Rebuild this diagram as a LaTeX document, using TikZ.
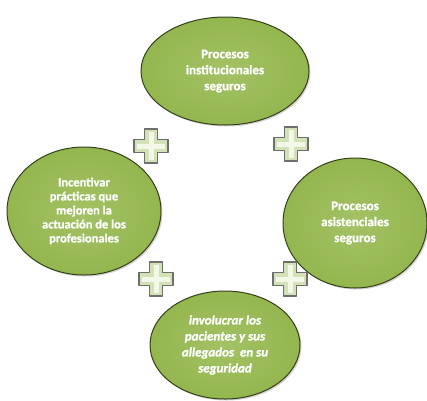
\documentclass[tikz,border=0pt]{standalone}
\usepackage{fontspec}
\setmainfont{Carlito}[BoldFont={Carlito Bold},ItalicFont={Carlito Italic},BoldItalicFont={Carlito Bold Italic},BoldFeatures={FakeBold=1.2},BoldItalicFeatures={FakeBold=1.2}]
\usetikzlibrary{shapes.geometric,shadows}
\definecolor{olive}{HTML}{94B64F}
\definecolor{olivelight}{HTML}{A3C265}
\definecolor{darkedge}{HTML}{34421A}
\definecolor{crossfill}{HTML}{D3E1B6}
\definecolor{crosslight}{HTML}{F2F7E8}
\definecolor{crossedge}{HTML}{6E6E6E}
\tikzset{
  blob/.style={ellipse, draw=darkedge, line width=1pt, inner color=olivelight, outer color=olive,
    text=white, align=center, inner sep=0pt,
    font=\bfseries\fontsize{13}{16}\selectfont,
    drop shadow={shadow xshift=1.5pt, shadow yshift=-1.5pt, opacity=0.35}},
  crossbody/.style={draw=crossedge, line width=1.1pt, fill=crossfill, line join=round},
  crossglow/.style={fill=crosslight},
  pics/plus/.style={code={
    \draw[crossbody] (-6.5,-17) -- (6.5,-17) -- (6.5,-6.5) -- (17,-6.5) -- (17,6.5) -- (6.5,6.5)
      -- (6.5,17) -- (-6.5,17) -- (-6.5,6.5) -- (-17,6.5) -- (-17,-6.5) -- (-6.5,-6.5) -- cycle;
    \fill[crossglow] (-2.5,-14) rectangle (2.5,14);
    \fill[crossglow] (-14,-2.5) rectangle (14,2.5);
  }}
}
\begin{document}
\begin{tikzpicture}[x=1pt,y=-1pt]
\useasboundingbox (0,0) rectangle (427,400);
\node[blob, minimum width=168pt, minimum height=108pt] (top) at (225,71)
  {\raisebox{-6pt}{\begin{tabular}{c}Procesos\\institucionales\\seguros\end{tabular}}};
\node[blob, minimum width=154pt, minimum height=128pt,
  font=\bfseries\fontsize{12.5}{14}\selectfont] (left) at (84,211)
  {Incentivar\\prácticas que\\mejoren la\\actuación de los\\profesionales};
\node[blob, minimum width=144pt, minimum height=130pt] (right) at (355,223)
  {Procesos\\asistenciales\\seguros};
\node[blob, minimum width=150pt, minimum height=108pt,
  font=\bfseries\itshape\fontsize{13}{16}\selectfont] (bottom) at (225,345)
  {involucrar los\\pacientes y sus\\allegados\ \ en su\\seguridad};
\pic at (151,146) {plus};
\pic at (291,144) {plus};
\pic at (156,279) {plus};
\pic at (290,279) {plus};
\end{tikzpicture}
\end{document}
